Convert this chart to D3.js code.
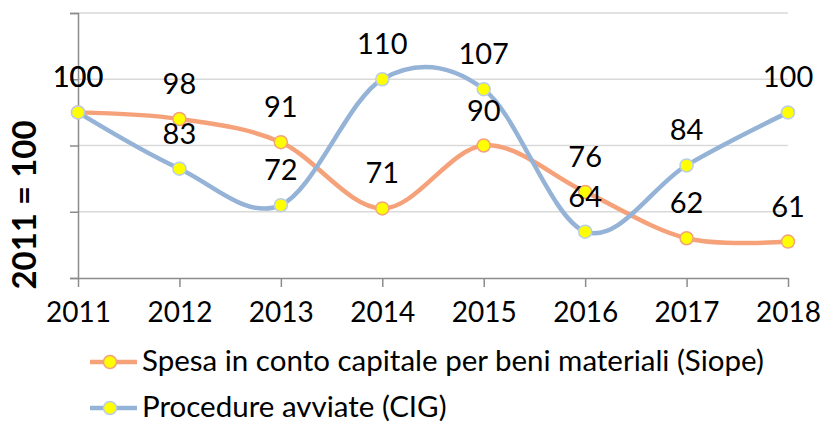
<!DOCTYPE html>
<html>
<head>
<meta charset="utf-8">
<script src="https://cdn.jsdelivr.net/npm/d3@7"></script>
<style>
  html, body { margin: 0; padding: 0; background: #fff; }
  svg { display: block; }
  text { font-family: Lato, Carlito, Calibri, sans-serif; fill: #000; }
</style>
</head>
<body>
<svg id="chart" width="824" height="422"></svg>
<script>
const years = ["2011", "2012", "2013", "2014", "2015", "2016", "2017", "2018"];
const spesa = [100, 98, 91, 71, 90, 76, 62, 61];
const procedure = [100, 83, 72, 110, 107, 64, 84, 100];
const yTicks = [50, 70, 90, 110, 130];
const seriesNames = ["Spesa in conto capitale per beni materiali (Siope)", "Procedure avviate (CIG)"];
const yTitle = "2011 = 100";

const series = [
  { name: seriesNames[0], values: spesa, color: "#F5A27A", marker: "#F5A27A" },
  { name: seriesNames[1], values: procedure, color: "#95B3D7", marker: "#B9CDE5" }
];

const svg = d3.select("#chart");
const x = d3.scalePoint().domain(years).range([78, 788]);
const y = d3.scaleLinear().domain([50, 130]).range([278, 13]);

// gridlines
svg.append("g").selectAll("line").data(yTicks.filter(d => d !== 50)).join("line")
  .attr("x1", 78).attr("x2", 788)
  .attr("y1", d => y(d)).attr("y2", d => y(d))
  .attr("stroke", "#D9D9D9").attr("stroke-width", 1.5);

// y axis
const yAxis = svg.append("g").attr("transform", "translate(78,0)")
  .call(d3.axisLeft(y).tickValues(yTicks).tickSize(8).tickFormat(""));
yAxis.select(".domain").attr("stroke", "#8C8C8C").attr("stroke-width", 1.5);
yAxis.selectAll(".tick line").attr("stroke", "#8C8C8C").attr("stroke-width", 1.5);

// x axis
const xAxis = svg.append("g").attr("transform", "translate(0,278)")
  .call(d3.axisBottom(x).tickSize(9).tickSizeOuter(0).tickPadding(15));
xAxis.select(".domain").attr("stroke", "#8C8C8C").attr("stroke-width", 1.5);
xAxis.selectAll(".tick line").attr("stroke", "#8C8C8C").attr("stroke-width", 1.5);
xAxis.selectAll(".tick text")
  .style("font-family", "Lato, Carlito, Calibri, sans-serif")
  .attr("font-size", 28).attr("fill", "#000").attr("dy", "0.71em");

// y title
svg.append("text")
  .attr("transform", "translate(36,205) rotate(-90)")
  .attr("text-anchor", "middle")
  .attr("font-size", 33).attr("font-weight", "bold")
  .text(yTitle);

const line = d3.line()
  .x((d, i) => x(years[i]))
  .y(d => y(d))
  .curve(d3.curveCatmullRom.alpha(0));

series.forEach(s => {
  svg.append("path").datum(s.values)
    .attr("d", line).attr("fill", "none")
    .attr("stroke", s.color).attr("stroke-width", 4.5).attr("stroke-linecap", "round");
});

series.forEach(s => {
  svg.append("g").selectAll("circle").data(s.values).join("circle")
    .attr("cx", (d, i) => x(years[i])).attr("cy", d => y(d)).attr("r", 6.5)
    .attr("fill", "#FFFF00").attr("stroke", s.marker).attr("stroke-width", 1.5);
});

series.forEach(s => {
  svg.append("g").selectAll("text").data(s.values).join("text")
    .attr("x", (d, i) => x(years[i])).attr("y", d => y(d) - 25)
    .attr("text-anchor", "middle").attr("font-size", 29)
    .text(d => d);
});

// legend
const legendY = [362, 408];
series.forEach((s, i) => {
  const g = svg.append("g");
  g.append("line").attr("x1", 90).attr("x2", 137).attr("y1", legendY[i]).attr("y2", legendY[i])
    .attr("stroke", s.color).attr("stroke-width", 4.5);
  g.append("circle").attr("cx", 110).attr("cy", legendY[i]).attr("r", 6.5)
    .attr("fill", "#FFFF00").attr("stroke", s.marker).attr("stroke-width", 1.5);
  g.append("text").attr("x", 142).attr("y", legendY[i] + 9)
    .attr("font-size", 29.5).text(s.name);
});
</script>
</body>
</html>
